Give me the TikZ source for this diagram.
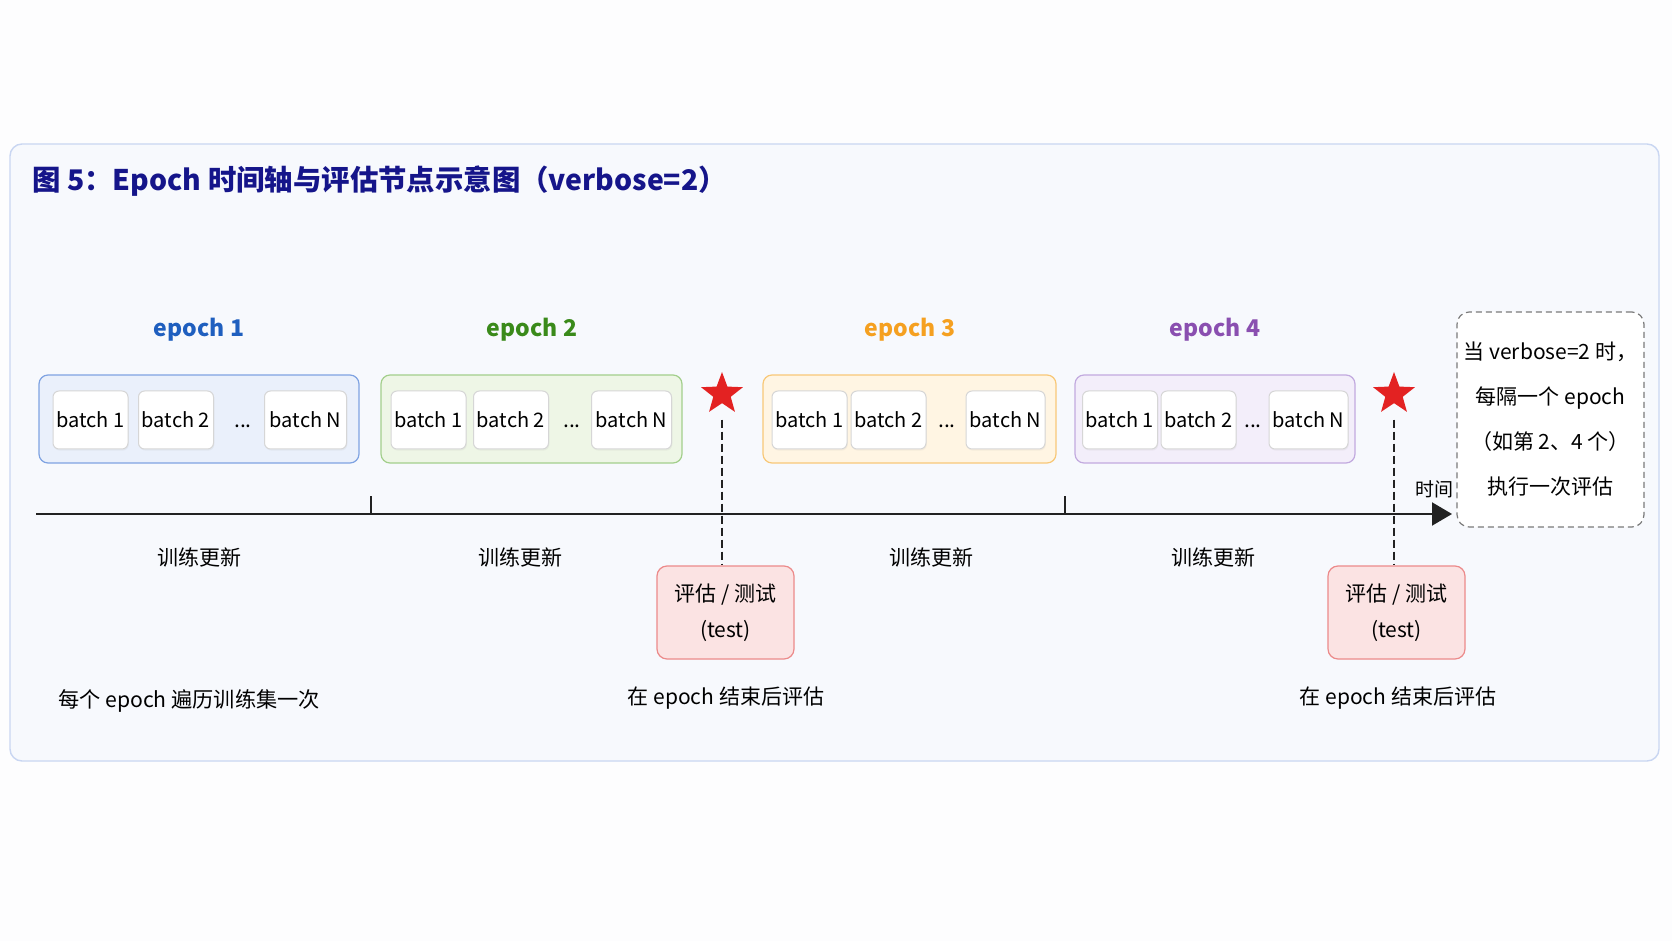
\documentclass[tikz,border=0pt]{standalone}
\usepackage{fontspec}
\setmainfont{Noto Sans CJK SC}
\usetikzlibrary{arrows.meta,shapes.geometric,shadows,positioning}

\definecolor{pagebg}{HTML}{FDFDFE}
\definecolor{panelbg}{HTML}{F7F9FD}
\definecolor{panelline}{HTML}{C9D6F2}
\definecolor{titleblue}{HTML}{15158A}
\definecolor{ep1}{HTML}{1F5FBF}
\definecolor{ep1fill}{HTML}{EAF0FB}
\definecolor{ep1line}{HTML}{7FA3E2}
\definecolor{ep2}{HTML}{3A8A1A}
\definecolor{ep2fill}{HTML}{EEF6E6}
\definecolor{ep2line}{HTML}{A3CF8C}
\definecolor{ep3}{HTML}{F5A020}
\definecolor{ep3fill}{HTML}{FFF5E3}
\definecolor{ep3line}{HTML}{F8C878}
\definecolor{ep4}{HTML}{8A4FB0}
\definecolor{ep4fill}{HTML}{F3EEFA}
\definecolor{ep4line}{HTML}{C2AADF}
\definecolor{batchgray}{HTML}{D6D6D6}
\definecolor{testfill}{HTML}{FBE3E3}
\definecolor{testline}{HTML}{EC8A8A}
\definecolor{starred}{HTML}{E32222}
\definecolor{axisgray}{HTML}{222222}

\tikzset{
  txt/.style={font=\fontsize{10.5}{12}\selectfont, inner sep=0pt},
  eplabel/.style={font=\fontsize{11.5}{14}\selectfont\bfseries, inner sep=0pt},
  epochbox/.style={rounded corners=4.5pt, line width=0.6pt, minimum height=44pt},
  batchbox/.style={draw=batchgray, fill=white, rounded corners=3pt, line width=0.5pt,
    minimum width=37.5pt, minimum height=29pt, inner xsep=1pt,
    drop shadow={opacity=0.08, shadow xshift=0.4pt, shadow yshift=-0.8pt},
    font=\fontsize{10}{12}\selectfont},
  testbox/.style={draw=testline, fill=testfill, rounded corners=5pt, line width=0.6pt,
    minimum width=68.5pt, minimum height=46.5pt, align=center,
    font=\fontsize{10.5}{18}\selectfont},
  evalstar/.style={star, star points=5, star point ratio=2.4, fill=starred,
    minimum size=22pt, inner sep=0pt},
  evaldash/.style={draw=axisgray, line width=0.6pt, dash pattern=on 4pt off 2pt},
  timeline/.style={draw=axisgray, line width=1pt, -{Triangle[length=10pt,width=11.5pt]}},
  tick/.style={draw=axisgray, line width=0.6pt},
}

\begin{document}
\begin{tikzpicture}[x=0.5pt,y=-0.5pt]
    \useasboundingbox (0,0) rectangle (1672,941);
    \fill[pagebg] (0,0) rectangle (1672,941);
    \draw[panelline, fill=panelbg, line width=0.7pt, rounded corners=6pt] (10,144) rectangle (1659,761);

    \node[anchor=west, text=titleblue, font=\fontsize{14.2}{17}\selectfont\bfseries, inner sep=0pt] (title) at (32,181)
      {图 5：Epoch 时间轴与评估节点示意图（verbose=2）};

    \node[eplabel, text=ep1] (lab1) at (199,330) {epoch 1};
    \node[eplabel, text=ep2] (lab2) at (532,330) {epoch 2};
    \node[eplabel, text=ep3] (lab3) at (910,330) {epoch 3};
    \node[eplabel, text=ep4] (lab4) at (1215,330) {epoch 4};

    \node[epochbox, draw=ep1line, fill=ep1fill, minimum width=160pt] (e1) at (199,419) {};
    \node[epochbox, draw=ep2line, fill=ep2fill, minimum width=150.5pt] (e2) at (531.5,419) {};
    \node[epochbox, draw=ep3line, fill=ep3fill, minimum width=146.5pt] (e3) at (909.5,419) {};
    \node[epochbox, draw=ep4line, fill=ep4fill, minimum width=140pt] (e4) at (1215,419) {};

    \node[batchbox] (e1b1) at (90.5,420) {batch 1};
    \node[batchbox] (e1b2) at (176,420) {batch 2};
    \node[txt, anchor=base] (e1dots) at (243,428) {...};
    \node[batchbox, minimum width=41pt] (e1bn) at (305.5,420) {batch N};

    \node[batchbox] (e2b1) at (428.5,420) {batch 1};
    \node[batchbox] (e2b2) at (511,420) {batch 2};
    \node[txt, anchor=base] (e2dots) at (572,428) {...};
    \node[batchbox, minimum width=40pt] (e2bn) at (631.5,420) {batch N};

    \node[batchbox] (e3b1) at (809.5,420) {batch 1};
    \node[batchbox] (e3b2) at (888.5,420) {batch 2};
    \node[txt, anchor=base] (e3dots) at (947,428) {...};
    \node[batchbox, minimum width=39.5pt] (e3bn) at (1005.5,420) {batch N};

    \node[batchbox] (e4b1) at (1120,420) {batch 1};
    \node[batchbox] (e4b2) at (1198.5,420) {batch 2};
    \node[txt, anchor=base] (e4dots) at (1253,428) {...};
    \node[batchbox, minimum width=39.5pt] (e4bn) at (1308.5,420) {batch N};

    \coordinate (tstart) at (36,514);
    \coordinate (tend) at (1452,514);
    \draw[timeline] (tstart) -- (tend);
    \coordinate (k1) at (371,514);
    \coordinate (k2) at (1065,514);
    \draw[tick] (k1) -- ++(0,-18);
    \draw[tick] (k2) -- ++(0,-18);
    \node[font=\fontsize{9.5}{11}\selectfont, inner sep=0pt] (timelbl) at (1434,489) {时间};

    \node[txt] (upd1) at (199,557) {训练更新};
    \node[txt] (upd2) at (520,557) {训练更新};
    \node[txt] (upd3) at (931,557) {训练更新};
    \node[txt] (upd4) at (1213,557) {训练更新};

    \node[evalstar] (s1) at (722,394) {};
    \node[evalstar] (s2) at (1394,394) {};

    \node[testbox] (t1) at (725.5,612.5) {评估 / 测试\\(test)};
    \node[testbox] (t2) at (1396.5,612.5) {评估 / 测试\\(test)};

    \draw[evaldash] ([yshift=-8pt]s1.south) -- (t1.north -| s1.south);
    \draw[evaldash] ([yshift=-8pt]s2.south) -- (t2.north -| s2.south);

    \node[txt] (cap1) at (726,698) {在 epoch 结束后评估};
    \node[txt] (cap2) at (1398,698) {在 epoch 结束后评估};
    \node[txt, font=\fontsize{10.6}{13}\selectfont] (capall) at (189,701) {每个 epoch 遍历训练集一次};

    \node[draw=axisgray!60, dash pattern=on 3pt off 2pt, line width=0.6pt, fill=white, rounded corners=6pt,
      minimum width=88.5pt, minimum height=107.5pt, align=center,
      font=\fontsize{10.5}{22.5}\selectfont] (note) at (1550.5,419.5)
      {当 verbose=2 时，\\每隔一个 epoch\\（如第 2、4 个）\\执行一次评估};
\end{tikzpicture}
\end{document}
